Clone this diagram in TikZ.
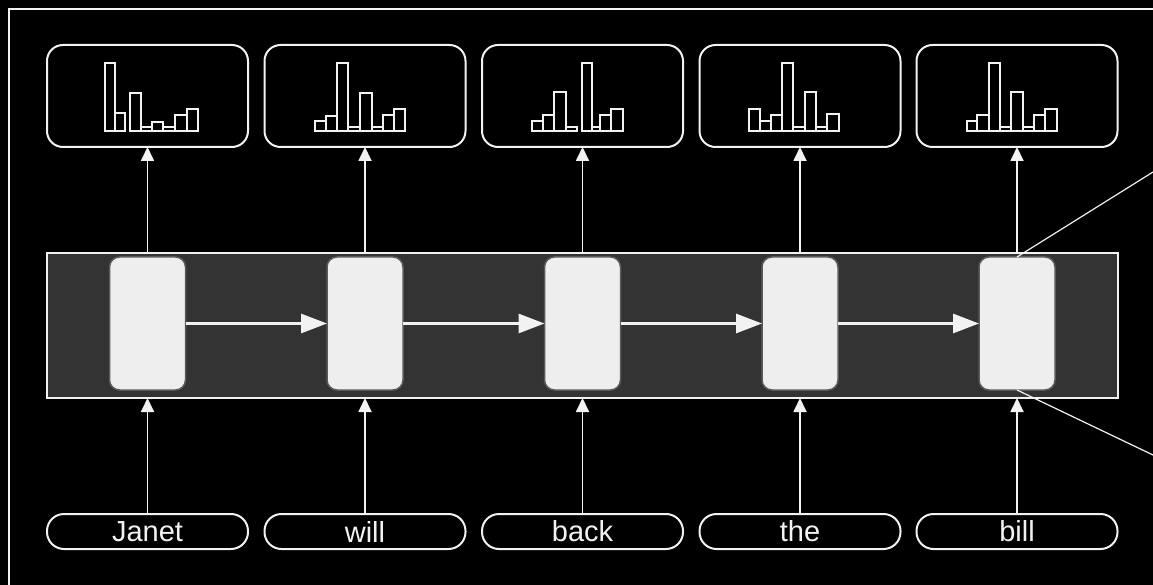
\documentclass[tikz,border=0pt]{standalone}
\usepackage{fontspec}
\setmainfont{Liberation Sans}
\usetikzlibrary{arrows.meta}
\definecolor{bandgray}{HTML}{333333}
\definecolor{cellfill}{HTML}{EEEEEE}
\definecolor{cellrim}{HTML}{5A5A5A}
\definecolor{ink}{HTML}{F2F2F2}
\begin{document}
\begin{tikzpicture}[x=1pt,y=-1pt,
  frame/.style={draw=ink,line width=2pt},
  distbox/.style={draw=ink,line width=2pt,rounded corners=16pt,minimum width=201pt,minimum height=102pt,inner sep=0pt,outer sep=0pt},
  bandbox/.style={draw=ink,fill=bandgray,line width=2pt,minimum width=1071pt,minimum height=145pt,inner sep=0pt,outer sep=0pt},
  cell/.style={draw=cellrim,fill=cellfill,line width=1.5pt,rounded corners=10pt,minimum width=76pt,minimum height=133pt,inner sep=0pt,outer sep=0pt},
  wordbox/.style={draw=ink,line width=2pt,rounded corners=17pt,minimum width=201pt,minimum height=35pt,inner sep=0pt,outer sep=0pt,text=ink,font=\fontsize{29}{29}\selectfont},
  up/.style={draw=ink,line width=1.8pt,-{Triangle[length=14pt,width=13pt]}},
  recur/.style={draw=ink,line width=3pt,-{Triangle[length=26pt,width=19pt]}},
  bar/.style={draw=ink,line width=1.8pt},
  zoomline/.style={draw=ink,line width=1.2pt}]

% canvas
\fill[black] (0,0) rectangle (1153,585);
\useasboundingbox (0,0) rectangle (1153,585);
\draw[frame] (1153,9) -- (9,9) -- (9,585);

% output distributions
\foreach \i/\x in {1/147.5,2/365,3/582.5,4/800,5/1017}
  \node[distbox] (t\i) at (\x,96) {};

% input words
\foreach \i/\x/\w in {1/147.5/Janet,2/365/will,3/582.5/back,4/800/the,5/1017/bill}
  \node[wordbox] (w\i) at (\x,531.5) {\w};

% recurrent layer
\node[bandbox] (band) at (582.5,325.5) {};
\foreach \i/\x in {1/147.5,2/365,3/582.5,4/800,5/1017}
  \node[cell] (c\i) at (\x,323.5) {};

% connections
\foreach \i in {1,...,5} {
  \draw[up] (w\i.north) -- (w\i.north |- band.south);
  \draw[up] (t\i.south |- band.north) -- (t\i.south);
}
\foreach \i/\j in {1/2,2/3,3/4,4/5}
  \draw[recur] (c\i.east) -- (c\j.west);

% pointer lines to the detail of the last cell
\coordinate (zt) at (1153,172);
\coordinate (zb) at (1153,455);
\draw[zoomline] (c5.north) -- (zt);
\draw[zoomline] (c5.south) -- (zb);

% histogram bars: left/right/top, common base at 131
\foreach \a/\b/\h in {105/115/63,115/125/113,130/141/93,141/152/127,152/163/122,163/175/127,175/187/115,187/198/109,
  315/326/121,326/337/116,337/348/63,348/360/127,360/372/93,372/383/127,383/394/115,394/405/109,
  532/543/121,543/554/115,554/566/92,566/577/127,582/592/63,592/600/127,600/611/115,611/623/109,
  749/760/109,760/771/121,771/782/115,782/793/63,793/805/127,805/816/92,816/827/127,827/839/114,
  967/977/121,977/989/115,989/1000/63,1000/1011/127,1011/1023/92,1023/1034/127,1034/1045/115,1045/1057/109}
  \draw[bar] (\a,131) rectangle (\b,\h);
\end{tikzpicture}
\end{document}
